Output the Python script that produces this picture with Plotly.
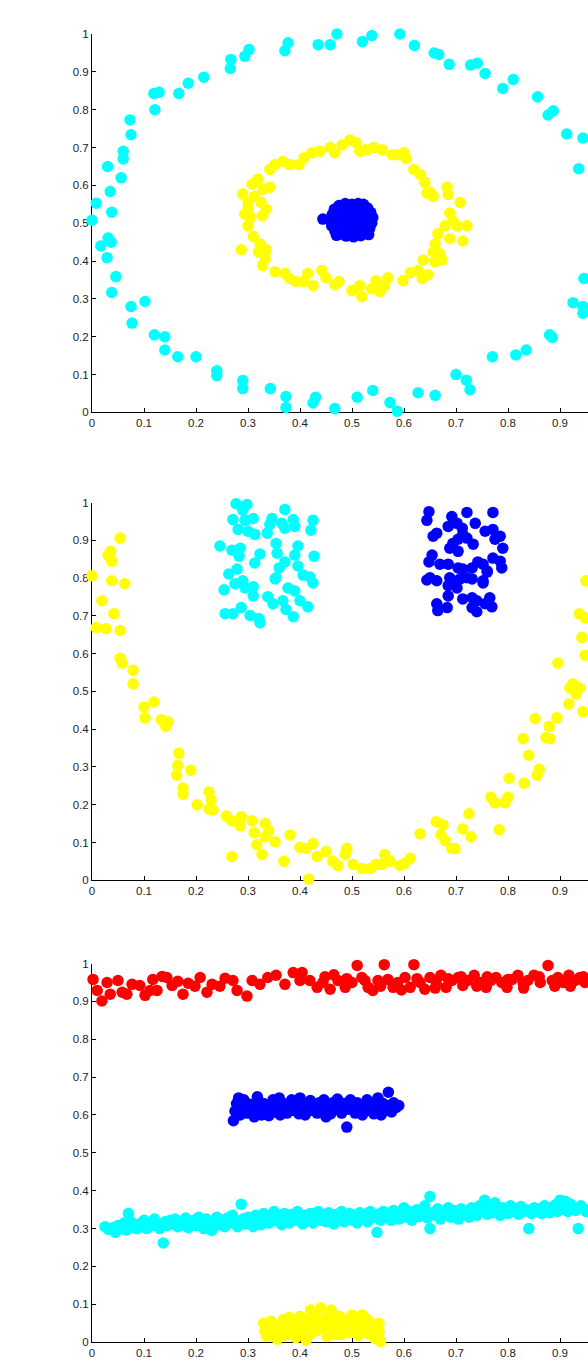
import plotly.graph_objects as go
from plotly.subplots import make_subplots

# ---------------- Panel 1: rings + centre blob ----------------
p1_cyan_x = [0.000,0.008,0.035,0.038,0.031,0.037,0.017,0.029,0.046,0.038,0.075,0.102,0.077,
             0.030,0.056,0.060,0.060,0.073,0.075,0.121,0.119,0.129,0.167,0.185,0.215,0.266,0.267,0.294,0.302,
             0.371,0.377,0.435,0.458,0.471,0.520,0.538,
             0.592,0.620,0.658,0.667,0.687,0.728,0.741,0.756,0.790,0.810,0.857,0.877,0.887,0.913,0.944,0.958,0.936,
             0.120,0.140,0.140,0.165,0.200,0.240,0.240,0.290,0.290,0.343,0.373,0.373,0.425,0.430,0.467,0.510,
             0.540,0.573,0.587,0.627,0.660,0.727,0.700,0.720,0.770,0.815,0.835,0.880,0.885,0.925,0.944,0.944,
             0.946,0.954]
p1_cyan_y = [0.508,0.553,0.584,0.529,0.461,0.450,0.440,0.409,0.359,0.317,0.280,0.293,0.236,
             0.650,0.620,0.670,0.690,0.773,0.734,0.800,0.843,0.846,0.843,0.870,0.886,0.909,0.933,0.941,0.959,
             0.956,0.977,0.972,0.972,1.000,0.980,0.996,
             1.000,0.970,0.950,0.946,0.920,0.918,0.923,0.896,0.856,0.880,0.834,0.786,0.797,0.736,0.725,0.686,0.644,
             0.205,0.200,0.165,0.147,0.147,0.110,0.097,0.084,0.063,0.063,0.042,0.013,0.025,0.040,0.010,0.040,
             0.058,0.026,0.003,0.052,0.045,0.060,0.100,0.085,0.147,0.152,0.165,0.205,0.198,0.290,0.280,0.262,
             0.354,0.367]

p1_yellow_x = [0.644,0.656,0.683,0.685,0.708,0.688,0.694,0.679,0.702,0.721,0.665,0.688,0.713,0.660,0.656,0.669,
               0.637,0.660,0.673,0.627,0.646,0.612,0.635,0.598,0.569,0.546,0.563,0.554,0.538,0.515,0.519,0.500,
               0.475,0.467,0.450,0.442,0.425,0.415,0.406,
               0.392,0.380,0.371,0.352,0.328,0.333,0.320,0.323,0.287,0.300,0.305,0.294,0.300,0.300,0.290,0.313,
               0.325,0.335,0.327,0.308,0.319,0.329,0.342,0.310,0.335,
               0.342,0.352,0.367,0.380,0.398,0.408,0.423,0.438,0.458,0.467,0.481,0.496,0.508,0.515,0.527,0.542,
               0.558,0.577,0.588,0.600,0.604,0.619,0.631,0.640,0.650]
p1_yellow_y = [0.580,0.571,0.595,0.576,0.555,0.527,0.506,0.493,0.493,0.493,0.472,0.459,0.453,0.445,0.424,0.419,
               0.403,0.398,0.403,0.375,0.364,0.369,0.354,0.348,0.356,0.348,0.335,0.320,0.327,0.335,0.306,0.322,
               0.346,0.338,0.356,0.375,0.335,0.367,0.346,
               0.346,0.354,0.367,0.372,0.388,0.406,0.424,0.445,0.430,0.493,0.516,0.524,0.537,0.555,0.577,0.571,
               0.555,0.537,0.519,0.603,0.616,0.590,0.595,0.465,0.430,
               0.642,0.655,0.663,0.655,0.655,0.673,0.686,0.690,0.700,0.686,0.707,0.720,0.713,0.690,0.694,0.700,
               0.694,0.681,0.681,0.686,0.671,0.642,0.629,0.608,0.582]

p1_blue_x = [0.444,0.466,0.475,0.487,0.500,0.512,0.521,0.530,0.536,0.540,0.538,0.534,0.527,0.517,0.503,0.489,
             0.477,0.467,0.461,0.458,0.462,0.474,0.486,0.498,0.509,0.520,0.527,0.528,0.520,0.509,0.496,0.484,
             0.474,0.471,0.481,0.494,0.506,0.515,0.512,0.498,0.487,0.496,0.505,0.522,0.478,0.532,0.470,0.500,
             0.534,0.465,0.517,0.491]
p1_blue_y = [0.511,0.537,0.547,0.552,0.550,0.552,0.545,0.540,0.529,0.515,0.500,0.486,0.475,0.467,0.464,0.466,
             0.471,0.480,0.493,0.508,0.523,0.530,0.538,0.540,0.537,0.530,0.517,0.502,0.489,0.480,0.478,0.482,
             0.493,0.508,0.519,0.523,0.521,0.510,0.496,0.492,0.500,0.508,0.528,0.550,0.500,0.470,0.468,0.476,
             0.521,0.512,0.521,0.547]

# ---------------- Panel 2: moon + two squares ----------------
p2_yellow_x = [0.000,0.008,0.019,0.027,0.031,0.036,0.038,0.038,0.042,0.054,0.054,0.063,0.054,0.058,0.079,0.079,
               0.100,0.102,0.119,0.133,0.142,0.146,0.167,0.165,0.163,0.175,0.175,0.190,0.202,0.225,0.229,0.225,
               0.233,0.258,0.269,0.285,0.287,0.308,0.312,0.317,0.333,0.333,0.340,0.269,0.327,0.352,0.369,0.381,
               0.400,0.412,0.425,0.433,0.450,0.417,0.463,0.473,0.487,0.490,0.502,0.519,0.535,0.546,0.558,0.563,
               0.573,0.592,0.602,0.612,0.631,0.662,0.675,0.671,0.679,0.692,0.713,0.729,0.725,0.698,
               0.767,0.775,0.800,0.794,0.783,0.802,0.831,0.840,0.860,0.856,0.829,0.873,0.881,0.852,0.879,0.894,
               0.917,0.944,0.925,0.919,0.938,0.931,0.896,0.948,0.942,0.937,0.948,0.950]
p2_yellow_y = [0.806,0.669,0.740,0.666,0.861,0.871,0.845,0.793,0.706,0.906,0.661,0.785,0.588,0.575,0.556,0.520,
               0.459,0.430,0.472,0.425,0.407,0.420,0.336,0.304,0.278,0.244,0.228,0.291,0.200,0.234,0.213,0.189,
               0.186,0.170,0.157,0.144,0.168,0.157,0.126,0.094,0.150,0.115,0.131,0.063,0.068,0.102,0.050,0.120,
               0.087,0.084,0.097,0.063,0.076,0.003,0.050,0.039,0.068,0.084,0.042,0.031,0.031,0.042,0.042,0.068,
               0.050,0.039,0.045,0.058,0.123,0.155,0.147,0.121,0.105,0.084,0.136,0.115,0.176,0.084,
               0.220,0.205,0.220,0.205,0.134,0.270,0.257,0.331,0.294,0.278,0.375,0.378,0.375,0.428,0.407,0.430,
               0.467,0.446,0.520,0.509,0.509,0.493,0.575,0.596,0.643,0.706,0.695,0.793]

p2_cyan_x = [0.277,0.298,0.290,0.371,0.271,0.294,0.310,0.346,0.387,0.425,0.281,0.300,0.313,0.337,0.342,0.365,
             0.371,0.390,0.421,0.246,0.269,0.285,0.283,0.323,0.313,0.354,0.356,0.396,0.390,0.427,0.371,0.360,
             0.354,0.279,0.263,0.396,0.406,0.419,0.425,0.352,0.290,0.275,0.294,0.310,0.254,0.377,0.390,0.310,
             0.338,0.348,0.367,0.373,0.400,0.415,0.256,0.271,0.287,0.304,0.321,0.323,0.387]
p2_cyan_y = [0.997,0.995,0.980,0.982,0.955,0.953,0.958,0.958,0.955,0.953,0.929,0.924,0.916,0.919,0.942,0.945,
             0.932,0.937,0.927,0.885,0.874,0.879,0.858,0.864,0.840,0.892,0.866,0.885,0.861,0.858,0.843,0.827,
             0.801,0.824,0.811,0.832,0.808,0.803,0.787,0.798,0.793,0.785,0.774,0.777,0.769,0.774,0.766,0.753,
             0.751,0.732,0.740,0.717,0.740,0.724,0.706,0.706,0.722,0.701,0.693,0.682,0.698]

p2_blue_x = [0.648,0.644,0.692,0.721,0.737,0.771,0.685,0.702,0.712,0.663,0.656,0.713,0.721,0.704,0.756,0.771,
             0.785,0.775,0.733,0.688,0.704,0.694,0.790,0.654,0.648,0.669,0.685,0.742,0.731,0.713,0.704,0.771,
             0.785,0.788,0.760,0.650,0.644,0.663,0.688,0.694,0.708,0.721,0.731,0.685,0.702,0.752,0.685,0.663,
             0.665,0.683,0.713,0.731,0.740,0.731,0.740,0.765,0.769,0.756,0.752,0.760,0.752]
p2_blue_y = [0.976,0.953,0.963,0.974,0.945,0.974,0.937,0.945,0.932,0.919,0.911,0.916,0.906,0.903,0.924,0.929,
             0.911,0.903,0.890,0.879,0.871,0.892,0.879,0.861,0.843,0.837,0.837,0.843,0.827,0.824,0.827,0.853,
             0.845,0.827,0.819,0.801,0.795,0.793,0.801,0.793,0.798,0.801,0.798,0.780,0.774,0.787,0.753,0.732,
             0.714,0.722,0.745,0.748,0.740,0.722,0.711,0.748,0.724,0.732,0.837,0.816,0.793]

# ---------------- Panel 3: four horizontal bands ----------------
p3_red_x = [0.002,0.010,0.019,0.029,0.035,0.050,0.058,0.067,0.077,0.092,0.102,0.112,0.125,0.117,0.135,0.144,
            0.154,0.165,0.175,0.185,0.198,0.208,0.221,0.231,0.246,0.256,0.271,0.279,0.298,0.308,0.323,0.338,
            0.354,0.371,0.387,0.404,0.400,0.419,0.433,
            0.444,0.458,0.473,0.487,0.500,0.510,0.519,0.531,0.540,0.550,0.562,0.569,0.579,0.588,0.602,0.612,
            0.619,0.631,0.640,0.650,0.662,0.671,0.681,0.692,0.704,0.713,0.723,0.735,0.746,0.758,0.767,0.777,
            0.788,0.798,0.808,0.819,0.829,0.838,0.850,0.862,0.877,0.885,0.896,0.906,0.917,0.929,0.938,0.948,
            0.954,0.448,0.465,0.490,0.525,0.555,0.595,0.625,0.660,0.685,0.710,0.740,0.760,0.800,0.830,0.860,
            0.890,0.920,0.945]
p3_red_y = [0.958,0.929,0.901,0.950,0.919,0.955,0.924,0.919,0.945,0.942,0.916,0.929,0.929,0.958,0.966,0.963,
            0.942,0.953,0.919,0.948,0.940,0.963,0.924,0.945,0.940,0.961,0.955,0.929,0.914,0.955,0.945,0.963,
            0.969,0.945,0.976,0.976,0.955,0.955,0.937,
            0.950,0.932,0.955,0.937,0.950,0.995,0.963,0.937,0.929,0.955,0.997,0.958,0.937,0.950,0.963,0.937,
            0.997,0.950,0.932,0.963,0.950,0.969,0.937,0.955,0.963,0.942,0.955,0.969,0.950,0.937,0.955,0.963,
            0.950,0.937,0.958,0.969,0.950,0.955,0.969,0.950,0.995,0.955,0.963,0.950,0.969,0.955,0.963,0.950,
            0.969,0.965,0.970,0.960,0.955,0.940,0.930,0.960,0.935,0.960,0.965,0.940,0.965,0.958,0.935,0.965,
            0.940,0.940,0.965]

p3_blue_x = [0.272,0.275,0.278,0.285,0.288,0.292,0.298,0.302,0.308,0.312,0.316,0.320,0.326,0.330,0.335,0.340,
             0.344,0.348,0.352,0.357,0.362,0.366,0.370,0.375,0.380,0.384,0.388,0.393,0.398,0.402,0.406,0.410,
             0.415,0.420,0.424,0.428,0.433,0.437,0.442,0.446,0.450,0.455,0.459,0.463,0.468,0.472,0.476,0.480,
             0.485,0.490,0.493,0.497,0.502,0.506,0.510,0.515,0.520,0.524,0.529,0.533,0.538,0.542,0.547,0.551,
             0.556,0.560,0.565,0.570,0.572,0.576,0.580,0.585,0.590,0.282,0.318,0.400,0.450,0.360,0.550]
p3_blue_y = [0.585,0.610,0.630,0.600,0.622,0.640,0.605,0.628,0.612,0.595,0.635,0.618,0.600,0.630,0.612,0.598,
             0.625,0.640,0.608,0.622,0.600,0.632,0.615,0.605,0.628,0.640,0.612,0.622,0.603,0.632,0.618,0.600,
             0.625,0.638,0.612,0.622,0.605,0.632,0.618,0.640,0.610,0.625,0.603,0.632,0.615,0.642,0.620,0.605,
             0.630,0.568,0.615,0.640,0.622,0.605,0.632,0.615,0.600,0.628,0.640,0.612,0.622,0.603,0.635,0.618,
             0.600,0.630,0.612,0.660,0.625,0.608,0.632,0.620,0.625,0.645,0.648,0.645,0.595,0.645,0.645]

p3_cyan_x = [0.025,0.032,0.040,0.045,0.050,0.056,0.062,0.066,0.070,0.075,0.080,0.085,0.090,0.095,0.100,0.105,
             0.110,0.115,0.120,0.125,0.130,0.137,0.140,0.145,0.150,0.155,0.160,0.165,0.170,0.175,0.180,0.185,
             0.190,0.195,0.200,0.205,0.210,0.215,0.220,0.225,0.230,0.235,0.240,0.245,0.250,0.255,0.260,0.265,
             0.270,0.275,0.280,0.287,0.290,0.295,0.300,0.305,0.310,0.315,0.320,0.325,0.330,0.335,0.340,0.345,
             0.350,0.355,0.360,0.365,0.370,0.375,0.380,0.385,0.390,0.395,0.400,0.405,0.410,0.415,0.420,0.425,
             0.430,0.435,0.440,0.445,0.450,0.455,0.460,0.465,0.470,0.475,0.480,0.485,0.490,0.495,0.500,0.505,
             0.510,0.515,0.520,0.525,0.530,0.535,0.540,0.548,0.550,0.555,0.560,0.565,0.570,0.575,0.580,0.585,
             0.590,0.595,0.600,0.605,0.610,0.615,0.620,0.625,0.630,0.635,0.640,0.645,0.650,0.650,0.655,0.660,
             0.665,0.670,0.675,0.680,0.685,0.690,0.695,0.700,0.705,0.710,0.715,0.720,0.725,0.730,0.735,0.740,
             0.745,0.750,0.755,0.760,0.765,0.770,0.775,0.780,0.785,0.790,0.795,0.800,0.805,0.810,0.815,0.820,
             0.825,0.830,0.835,0.840,0.845,0.850,0.855,0.860,0.865,0.870,0.875,0.880,0.885,0.890,0.895,0.900,
             0.905,0.910,0.915,0.920,0.925,0.930,0.935,0.940,0.945,0.950,0.955]
p3_cyan_y = [0.305,0.298,0.302,0.290,0.308,0.300,0.315,0.296,0.340,0.318,0.305,0.300,0.312,0.305,0.322,0.300,
             0.315,0.308,0.325,0.312,0.300,0.262,0.318,0.308,0.322,0.312,0.325,0.305,0.318,0.310,0.328,0.302,
             0.315,0.322,0.308,0.330,0.316,0.300,0.325,0.312,0.295,0.318,0.330,0.310,0.322,0.305,0.328,0.315,
             0.335,0.318,0.305,0.364,0.325,0.312,0.330,0.318,0.305,0.335,0.322,0.310,0.340,0.325,0.315,0.335,
             0.345,0.320,0.332,0.310,0.340,0.325,0.315,0.338,0.322,0.345,0.328,0.312,0.335,0.322,0.340,0.315,
             0.330,0.345,0.322,0.335,0.318,0.342,0.328,0.312,0.338,0.325,0.345,0.318,0.332,0.340,0.322,0.335,
             0.315,0.342,0.328,0.338,0.318,0.345,0.330,0.290,0.338,0.322,0.345,0.330,0.340,0.322,0.348,0.335,
             0.325,0.342,0.355,0.330,0.345,0.322,0.338,0.350,0.332,0.345,0.360,0.328,0.385,0.300,0.342,0.335,
             0.352,0.325,0.345,0.338,0.355,0.330,0.348,0.340,0.325,0.352,0.338,0.345,0.330,0.355,0.342,0.335,
             0.360,0.348,0.375,0.338,0.352,0.342,0.368,0.345,0.335,0.355,0.348,0.340,0.360,0.345,0.352,0.338,
             0.358,0.345,0.350,0.300,0.340,0.355,0.345,0.352,0.340,0.360,0.348,0.342,0.355,0.362,0.345,0.375,
             0.352,0.372,0.345,0.365,0.355,0.348,0.300,0.360,0.352,0.345,0.340]

p3_yellow_x = [0.330,0.332,0.336,0.340,0.344,0.348,0.352,0.356,0.360,0.364,0.368,0.372,0.376,0.380,0.384,0.388,
               0.392,0.396,0.400,0.404,0.408,0.412,0.416,0.420,0.424,0.428,0.432,0.436,0.440,0.444,0.448,0.452,
               0.456,0.460,0.464,0.468,0.472,0.476,0.480,0.484,0.488,0.492,0.496,0.500,0.504,0.508,0.512,0.516,
               0.520,0.524,0.528,0.532,0.536,0.540,0.544,0.548,0.552,0.555,0.552,0.345,0.370,0.390,0.410,0.430,
               0.450,0.470,0.490,0.510,0.530,0.360,0.420,0.460,0.380,0.500,0.520]
p3_yellow_y = [0.050,0.030,0.015,0.042,0.055,0.025,0.038,0.008,0.048,0.030,0.060,0.018,0.042,0.028,0.055,0.035,
               0.012,0.048,0.068,0.030,0.045,0.005,0.058,0.022,0.040,0.072,0.030,0.050,0.090,0.038,0.062,0.015,
               0.045,0.078,0.028,0.055,0.040,0.068,0.020,0.048,0.035,0.060,0.025,0.052,0.040,0.065,0.018,0.045,
               0.030,0.058,0.040,0.022,0.050,0.035,0.010,0.045,0.028,0.002,0.050,0.035,0.045,0.025,0.060,0.048,
               0.030,0.020,0.050,0.035,0.060,0.020,0.085,0.085,0.065,0.072,0.072]

tick_vals = [0, 0.1, 0.2, 0.3, 0.4, 0.5, 0.6, 0.7, 0.8, 0.9, 1]
tick_text = ["0", "0.1", "0.2", "0.3", "0.4", "0.5", "0.6", "0.7", "0.8", "0.9", "1"]

CYAN, YELLOW, BLUE, RED = "#00FFFF", "#FFFF00", "#0000FF", "#FF0000"
MSIZE = 11.5

fig = make_subplots(rows=3, cols=1)

panels = [
    [(p1_cyan_x, p1_cyan_y, CYAN), (p1_yellow_x, p1_yellow_y, YELLOW), (p1_blue_x, p1_blue_y, BLUE)],
    [(p2_yellow_x, p2_yellow_y, YELLOW), (p2_cyan_x, p2_cyan_y, CYAN), (p2_blue_x, p2_blue_y, BLUE)],
    [(p3_red_x, p3_red_y, RED), (p3_blue_x, p3_blue_y, BLUE), (p3_cyan_x, p3_cyan_y, CYAN),
     (p3_yellow_x, p3_yellow_y, YELLOW)],
]
for r, traces in enumerate(panels, start=1):
    for xs, ys, col in traces:
        fig.add_trace(go.Scatter(x=xs, y=ys, mode="markers", cliponaxis=False,
                                 marker=dict(color=col, size=MSIZE, line=dict(width=0)),
                                 showlegend=False, hoverinfo="skip"), row=r, col=1)

W, H = 588, 1366
ypix = [(28.3, 410.0), (501.0, 882.0), (966.0, 1348.0)]   # page y of top / bottom of each plot
axis_style = dict(showline=True, linecolor="black", linewidth=1, ticks="inside", ticklen=4,
                  tickcolor="black", tickwidth=1, showgrid=False, zeroline=False, mirror=False,
                  layer="below traces", tickvals=tick_vals, ticktext=tick_text,
                  tickfont=dict(size=11.5, color="#222222"))
for i, (top, bot) in enumerate(ypix, start=1):
    sfx = "" if i == 1 else str(i)
    fig.layout["yaxis" + sfx].update(domain=[1 - bot / H, 1 - top / H], range=[0, 1],
                                     fixedrange=True, **axis_style)
    fig.layout["xaxis" + sfx].update(domain=[0, 1], range=[0, 496 / 520],
                                     fixedrange=True, **axis_style)

fig.update_layout(width=W, height=H, margin=dict(l=92, r=0, t=0, b=0),
                  plot_bgcolor="white", paper_bgcolor="white", hovermode=False,
                  font=dict(family="Liberation Sans, Arial, Helvetica, sans-serif", size=11.5, color="#222222"))

# remove the browser's default 8px body margin so the figure sits at the page origin
fig.write_html("out.html", config={"displayModeBar": False, "staticPlot": True},
               post_script="document.body.style.margin='0';document.body.style.overflow='hidden';")
